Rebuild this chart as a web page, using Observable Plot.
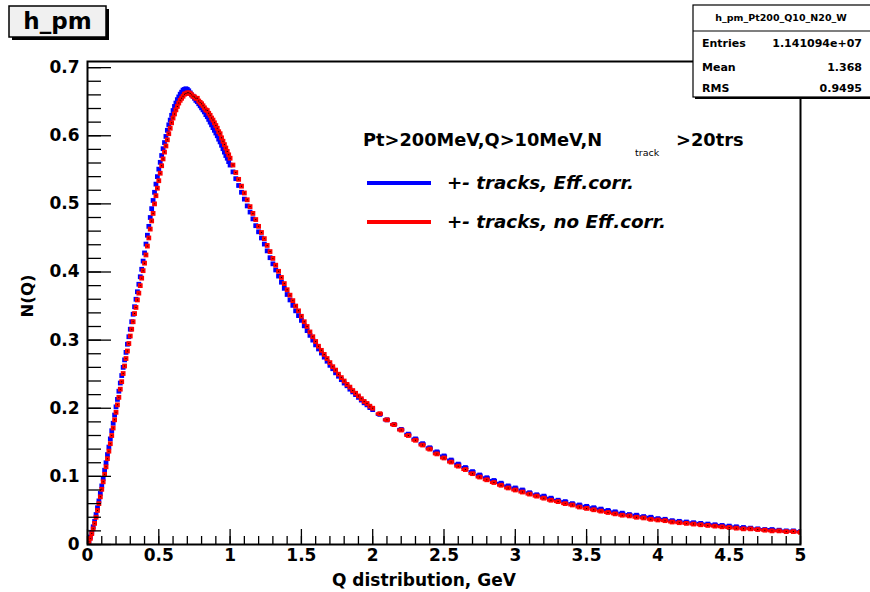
<!DOCTYPE html>
<html><head><meta charset="utf-8">
<script src="https://cdn.jsdelivr.net/npm/d3@7"></script>
<script src="https://cdn.jsdelivr.net/npm/@observablehq/plot@0.6"></script>
<style>
body{margin:0;background:#fff;}
#wrap{width:870px;height:592px;}
</style></head><body><div id="wrap"></div><script>
// Bin centers (GeV)
const qBins = [
0.01,0.02,0.03,0.04,0.05,0.06,0.07,0.08,0.09,0.10,
0.11,0.12,0.13,0.14,0.15,0.16,0.17,0.18,0.19,0.20,
0.21,0.22,0.23,0.24,0.25,0.26,0.27,0.28,0.29,0.30,
0.31,0.32,0.33,0.34,0.35,0.36,0.37,0.38,0.39,0.40,
0.41,0.42,0.43,0.44,0.45,0.46,0.47,0.48,0.49,0.50,
0.51,0.52,0.53,0.54,0.55,0.56,0.57,0.58,0.59,0.60,
0.61,0.62,0.63,0.64,0.65,0.66,0.67,0.68,0.69,0.70,
0.71,0.72,0.73,0.74,0.75,0.76,0.77,0.78,0.79,0.80,
0.81,0.82,0.83,0.84,0.85,0.86,0.87,0.88,0.89,0.90,
0.91,0.92,0.93,0.94,0.95,0.96,0.97,0.98,0.99,1.00,
1.02,1.04,1.06,1.08,1.10,1.12,1.14,1.16,1.18,1.20,
1.22,1.24,1.26,1.28,1.30,1.32,1.34,1.36,1.38,1.40,
1.42,1.44,1.46,1.48,1.50,1.52,1.54,1.56,1.58,1.60,
1.62,1.64,1.66,1.68,1.70,1.72,1.74,1.76,1.78,1.80,
1.82,1.84,1.86,1.88,1.90,1.92,1.94,1.96,1.98,2.00,
2.05,2.10,2.15,2.20,2.25,2.30,2.35,2.40,2.45,2.50,
2.55,2.60,2.65,2.70,2.75,2.80,2.85,2.90,2.95,3.00,
3.05,3.10,3.15,3.20,3.25,3.30,3.35,3.40,3.45,3.50,
3.55,3.60,3.65,3.70,3.75,3.80,3.85,3.90,3.95,4.00,
4.05,4.10,4.15,4.20,4.25,4.30,4.35,4.40,4.45,4.50,
4.55,4.60,4.65,4.70,4.75,4.80,4.85,4.90,4.95,5.00];

// "+- tracks, Eff.corr." (blue)
const nEffCorr = [
0.005,0.011,0.018,0.026,0.034,0.044,0.054,0.064,0.075,0.086,
0.097,0.109,0.120,0.132,0.143,0.155,0.167,0.178,0.190,0.202,
0.213,0.225,0.237,0.248,0.260,0.271,0.282,0.294,0.305,0.316,
0.327,0.338,0.349,0.360,0.371,0.382,0.393,0.404,0.416,0.428,
0.441,0.454,0.467,0.480,0.493,0.505,0.517,0.529,0.540,0.551,
0.561,0.571,0.581,0.590,0.599,0.608,0.616,0.623,0.630,0.637,
0.643,0.648,0.653,0.657,0.661,0.664,0.667,0.668,0.669,0.668,
0.666,0.663,0.660,0.658,0.655,0.652,0.650,0.647,0.644,0.641,
0.638,0.635,0.631,0.628,0.624,0.620,0.616,0.612,0.608,0.604,
0.600,0.595,0.591,0.586,0.581,0.576,0.571,0.567,0.562,0.557,
0.547,0.537,0.527,0.517,0.507,0.497,0.488,0.478,0.468,0.459,
0.450,0.441,0.431,0.421,0.412,0.403,0.394,0.385,0.376,0.367,
0.359,0.351,0.343,0.336,0.329,0.321,0.314,0.307,0.300,0.293,
0.287,0.281,0.275,0.269,0.263,0.258,0.252,0.247,0.242,0.237,
0.233,0.228,0.224,0.220,0.216,0.212,0.208,0.205,0.201,0.198,
0.191,0.183,0.176,0.169,0.162,0.155,0.148,0.142,0.136,0.130,
0.124,0.118,0.113,0.107,0.102,0.098,0.094,0.090,0.086,0.083,
0.080,0.076,0.073,0.071,0.068,0.065,0.063,0.060,0.058,0.056,
0.054,0.052,0.050,0.048,0.046,0.044,0.043,0.041,0.040,0.038,
0.037,0.035,0.034,0.033,0.032,0.031,0.030,0.029,0.028,0.027,
0.026,0.025,0.024,0.023,0.022,0.022,0.021,0.020,0.020,0.019];

// "+- tracks, no Eff.corr." (red)
const nNoEffCorr = [
0.004,0.009,0.016,0.023,0.031,0.040,0.050,0.060,0.070,0.081,
0.092,0.103,0.114,0.126,0.137,0.148,0.160,0.171,0.183,0.194,
0.205,0.216,0.228,0.239,0.251,0.262,0.273,0.284,0.295,0.306,
0.316,0.327,0.339,0.348,0.359,0.369,0.380,0.391,0.402,0.413,
0.425,0.438,0.450,0.463,0.475,0.486,0.500,0.512,0.523,0.534,
0.545,0.556,0.566,0.576,0.585,0.594,0.603,0.611,0.619,0.626,
0.632,0.638,0.643,0.648,0.652,0.655,0.658,0.661,0.662,0.663,
0.663,0.662,0.660,0.658,0.657,0.655,0.655,0.651,0.649,0.647,
0.644,0.641,0.638,0.637,0.633,0.630,0.626,0.623,0.619,0.615,
0.611,0.606,0.603,0.597,0.592,0.587,0.582,0.577,0.572,0.567,
0.557,0.546,0.536,0.526,0.516,0.506,0.496,0.486,0.477,0.467,
0.458,0.449,0.439,0.430,0.420,0.410,0.401,0.392,0.383,0.374,
0.366,0.358,0.350,0.343,0.335,0.327,0.320,0.312,0.305,0.298,
0.291,0.285,0.279,0.273,0.267,0.261,0.256,0.250,0.245,0.240,
0.235,0.231,0.226,0.222,0.218,0.214,0.210,0.207,0.203,0.200,
0.192,0.183,0.176,0.168,0.160,0.153,0.146,0.140,0.133,0.127,
0.121,0.115,0.110,0.104,0.099,0.095,0.091,0.087,0.083,0.080,
0.077,0.074,0.071,0.068,0.065,0.063,0.060,0.058,0.055,0.053,
0.051,0.049,0.047,0.045,0.043,0.042,0.040,0.039,0.037,0.036,
0.035,0.033,0.032,0.031,0.030,0.029,0.028,0.027,0.026,0.025,
0.024,0.023,0.023,0.022,0.021,0.020,0.020,0.019,0.019,0.018];

const xTicks = [0,0.5,1,1.5,2,2.5,3,3.5,4,4.5,5];
const xTickLabels = ["0","0.5","1","1.5","2","2.5","3","3.5","4","4.5","5"];
const yTicks = [0,0.1,0.2,0.3,0.4,0.5,0.6,0.7];
const yTickLabels = ["0","0.1","0.2","0.3","0.4","0.5","0.6","0.7"];

const seriesNames = ["+- tracks, Eff.corr.", "+- tracks, no Eff.corr."];
const seriesColors = ["#0000ff", "#ff0000"];
const statsTitle = "h_pm_Pt200_Q10_N20_W";
const statsLabels = ["Entries", "Mean", "RMS"];
const statsValues = ["1.141094e+07", "1.368", "0.9495"];

// build rows
const halfW = qBins.map((q, i) => (q - (i > 0 ? qBins[i - 1] : 0)) / 2);
const effRows = qBins.map((q, i) => ({q, n: nEffCorr[i], w: halfW[i]}));
const noRows = qBins.map((q, i) => ({q, n: nNoEffCorr[i], w: halfW[i]}));
const xLab = new Map(xTicks.map((d, i) => [d, xTickLabels[i]]));
const yLab = new Map(yTicks.map((d, i) => [d, yTickLabels[i]]));

const FONT = "DejaVu Sans, sans-serif";

const chart = Plot.plot({
  width: 870, height: 592,
  marginLeft: 87, marginRight: 70, marginTop: 61, marginBottom: 48,
  x: {domain: [0, 5]},
  y: {domain: [0, 0.709]},
  style: {fontFamily: FONT, background: "white", color: "black"},
  marks: [
    Plot.ruleY(effRows, {y: "n", x1: d => d.q - d.w, x2: d => d.q + d.w, stroke: seriesColors[0], strokeWidth: 3, clip: true}),
    Plot.dot(effRows, {x: "q", y: "n", symbol: "square", r: 2.7, fill: seriesColors[0], stroke: null, clip: true}),
    Plot.ruleY(noRows, {y: "n", x1: d => d.q - d.w, x2: d => d.q + d.w, stroke: seriesColors[1], strokeWidth: 3, clip: true}),
    Plot.dot(noRows, {x: "q", y: "n", symbol: "square", r: 2.7, fill: seriesColors[1], stroke: null, clip: true}),
    Plot.dot(noRows, {x: "q", y: "n", symbol: "square", r: 0.55, fill: "black", stroke: null, clip: true}),
    Plot.axisX({ticks: 50, tickSize: -8, tickFormat: () => "", label: null, strokeWidth: 1.3}),
    Plot.axisX(xTicks, {tickSize: -15, tickFormat: () => "", label: null, strokeWidth: 1.3}),
    Plot.axisX(xTicks, {tickSize: 0, tickPadding: 4, tickFormat: d => xLab.get(d), fontSize: 17, fontWeight: "bold", label: null}),
    Plot.axisY({ticks: 35, tickSize: -14, tickFormat: () => "", label: null, strokeWidth: 1.3}),
    Plot.axisY(yTicks, {tickSize: -24, tickFormat: () => "", label: null, strokeWidth: 1.3}),
    Plot.axisY(yTicks, {tickSize: 0, tickPadding: 8, tickFormat: d => yLab.get(d), fontSize: 17, fontWeight: "bold", label: null}),
    Plot.frame({stroke: "black", strokeWidth: 2})
  ]
});
document.getElementById("wrap").appendChild(chart);

// Annotations (ROOT-style boxes, legend, axis titles)
const svg = d3.select(chart);
const g = svg.append("g").attr("font-family", FONT).attr("fill", "black").attr("text-anchor", "start");

// axis titles
g.append("text").attr("x", 332).attr("y", 586).attr("font-size", 17).attr("font-weight", "bold").text("Q distribution, GeV");
g.append("text").attr("transform", "translate(33,296) rotate(-90)").attr("text-anchor", "middle")
  .attr("font-size", 16.5).attr("font-weight", "bold").text("N(Q)");

// title box
g.append("rect").attr("x", 12).attr("y", 9).attr("width", 97).attr("height", 31).attr("fill", "black");
g.append("rect").attr("x", 9).attr("y", 6).attr("width", 97).attr("height", 31)
  .attr("fill", "#f0f0f0").attr("stroke", "black").attr("stroke-width", 1.5);
g.append("text").attr("x", 57.5).attr("y", 29).attr("text-anchor", "middle")
  .attr("font-size", 23).attr("font-weight", "bold").text("h_pm");

// stats box
g.append("rect").attr("x", 695).attr("y", 7).attr("width", 178).attr("height", 92).attr("fill", "black");
g.append("rect").attr("x", 693).attr("y", 5).attr("width", 178).attr("height", 92)
  .attr("fill", "white").attr("stroke", "black").attr("stroke-width", 1.2);
g.append("line").attr("x1", 693).attr("x2", 870).attr("y1", 31).attr("y2", 31).attr("stroke", "black").attr("stroke-width", 1.2);
g.append("text").attr("x", 781).attr("y", 21).attr("text-anchor", "middle")
  .attr("font-size", 9.5).attr("font-weight", "bold").text(statsTitle);
const rowY = [47, 71, 92];
statsLabels.forEach((lab, i) => {
  g.append("text").attr("x", 702).attr("y", rowY[i]).attr("font-size", 11).attr("font-weight", "bold").text(lab);
  g.append("text").attr("x", 862).attr("y", rowY[i]).attr("text-anchor", "end").attr("font-size", 11).attr("font-weight", "bold").text(statsValues[i]);
});

// legend
g.append("text").attr("x", 363).attr("y", 146).attr("font-size", 17.8).attr("font-weight", "bold").text("Pt>200MeV,Q>10MeV,N");
g.append("text").attr("x", 635).attr("y", 156).attr("font-size", 9.5).text("track");
g.append("text").attr("x", 676).attr("y", 146).attr("font-size", 17.8).attr("font-weight", "bold").text(">20trs");
const legY = [183, 222];
seriesNames.forEach((name, i) => {
  g.append("line").attr("x1", 367).attr("x2", 431).attr("y1", legY[i]).attr("y2", legY[i])
    .attr("stroke", seriesColors[i]).attr("stroke-width", 4);
  g.append("text").attr("x", 447).attr("y", legY[i] + 6).attr("font-size", 18.3).attr("font-weight", "bold")
    .attr("font-style", "italic").text(name);
});
</script></body></html>
